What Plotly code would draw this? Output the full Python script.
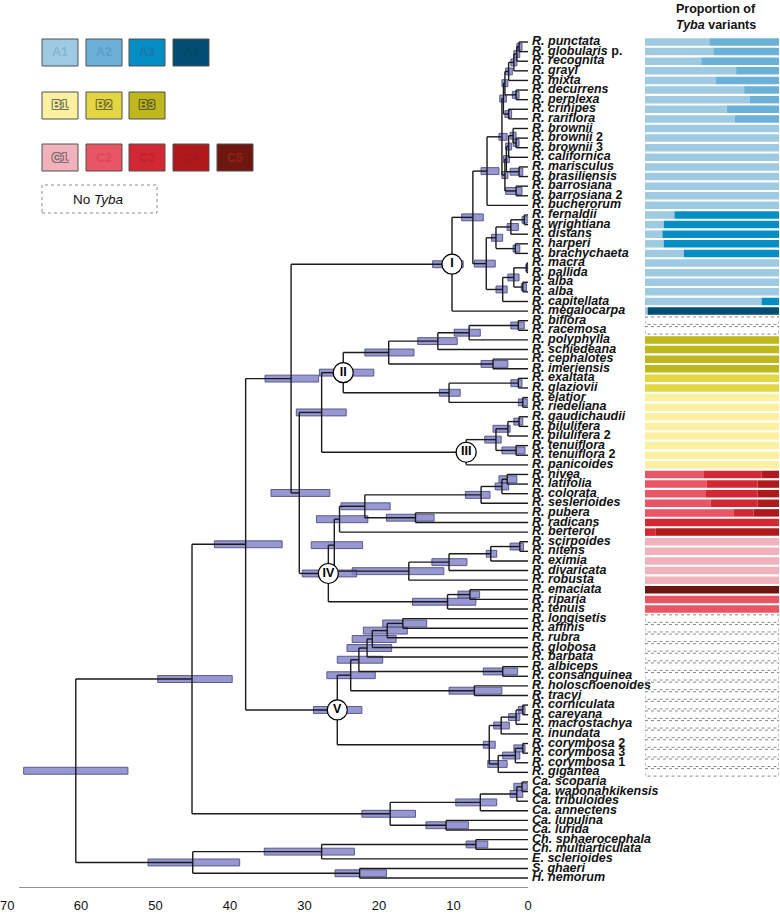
import plotly.graph_objects as go

# ---------------- data ----------------
tip_names = [
    "R. punctata", "R. globularis p.", "R. recognita", "R. grayi", "R. mixta",
    "R. decurrens", "R. perplexa", "R. crinipes", "R. rariflora", "R. brownii",
    "R. brownii 2", "R. brownii 3", "R. californica", "R. marisculus", "R. brasiliensis",
    "R. barrosiana", "R. barrosiana 2", "R. bucherorum", "R. fernaldii", "R. wrightiana",
    "R. distans", "R. harperi", "R. brachychaeta", "R. macra", "R. pallida",
    "R. alba", "R. alba", "R. capitellata", "R. megalocarpa", "R. biflora",
    "R. racemosa", "R. polyphylla", "R. schiedeana", "R. cephalotes", "R. imeriensis",
    "R. exaltata", "R. glaziovii", "R. elatior", "R. riedeliana", "R. gaudichaudii",
    "R. pilulifera", "R. pilulifera 2", "R. tenuiflora", "R. tenuiflora 2", "R. panicoides",
    "R. nivea", "R. latifolia", "R. colorata", "R. seslerioides", "R. pubera",
    "R. radicans", "R. berteroi", "R. scirpoides", "R. nitens", "R. eximia",
    "R. divaricata", "R. robusta", "R. emaciata", "R. riparia", "R. tenuis",
    "R. longisetis", "R. affinis", "R. rubra", "R. globosa", "R. barbata",
    "R. albiceps", "R. consanguinea", "R. holoschoenoides", "R. tracyi", "R. corniculata",
    "R. careyana", "R. macrostachya", "R. inundata", "R. corymbosa 2", "R. corymbosa 3",
    "R. corymbosa 1", "R. gigantea", "Ca. scoparia", "Ca. waponahkikensis", "Ca. tribuloides",
    "Ca. annectens", "Ca. lupulina", "Ca. lurida", "Ch. sphaerocephala", "Ch. multiarticulata",
    "E. sclerioides", "S. ghaeri", "H. nemorum",
]

# nodes: (name, children, age Ma, CI old, CI young); int children = tip index
clade_I_nodes = [
    ("pg", [0, 1], 1.2, 1.5, 0.8),
    ("pgr", ["pg", 2], 1.5, 1.9, 1.1),
    ("pgrg", ["pgr", 3], 1.9, 2.3, 1.5),
    ("pgrgm", ["pgrg", 4], 2.6, 3.0, 2.1),
    ("dp", [5, 6], 1.6, 2.1, 1.2),
    ("A1n", ["pgrgm", "dp"], 3.1, 3.5, 2.7),
    ("cr", [7, 8], 2.6, 3.1, 2.2),
    ("An", ["A1n", "cr"], 3.3, 3.8, 2.9),
    ("b23", [10, 11], 1.6, 2.0, 1.2),
    ("b123", [9, "b23"], 2.0, 2.4, 1.6),
    ("bc", ["b123", 12], 2.6, 3.0, 2.2),
    ("mb", [13, 14], 1.2, 2.4, 0.7),
    ("B1n", ["bc", "mb"], 2.9, 3.3, 2.5),
    ("bb", [15, 16], 1.6, 3.0, 0.8),
    ("Bn", ["B1n", "bb"], 3.1, 3.5, 2.7),
    ("AB", ["An", "Bn"], 3.5, 3.9, 2.8),
    ("ABbuch", ["AB", 17], 5.5, 6.3, 3.9),
    ("fw", [18, 19], 0.5, 0.8, 0.1),
    ("fwd", ["fw", 20], 2.3, 2.8, 1.3),
    ("hb", [21, 22], 1.7, 2.0, 1.1),
    ("fern", ["fwd", "hb"], 4.3, 4.9, 3.4),
    ("mp", [23, 24], 0.15, 0.3, 0.05),
    ("aa", [25, 26], 0.7, 0.9, 0.2),
    ("mpaa", ["mp", "aa"], 1.9, 2.7, 1.2),
    ("macra", ["mpaa", 27], 3.4, 4.3, 2.8),
    ("lowerI", ["fern", "macra"], 5.6, 7.2, 4.4),
    ("upperI", ["ABbuch", "lowerI"], 7.4, 8.9, 6.0),
    ("I", ["upperI", 28], 10.2, 12.8, 8.7),
]
clade_II_nodes = [
    ("bir", [29, 30], 1.3, 2.3, 0.5),
    ("birp", ["bir", 31], 7.9, 9.9, 6.4),
    ("birps", ["birp", 32], 12.1, 14.8, 9.5),
    ("ci", [33, 34], 4.7, 6.3, 2.7),
    ("IIa", ["birps", "ci"], 18.7, 21.9, 15.3),
    ("eg", [35, 36], 1.3, 2.3, 0.8),
    ("elr", [37, 38], 0.7, 1.3, 0.1),
    ("IIb", ["eg", "elr"], 10.6, 11.9, 9.1),
    ("II", ["IIa", "IIb"], 24.8, 28.0, 20.7),
]
clade_III_nodes = [
    ("gp", [39, 40], 1.2, 1.9, 0.7),
    ("gpp", ["gp", 41], 2.7, 4.7, 2.4),
    ("tt", [42, 43], 1.6, 3.5, 0.4),
    ("IIIa", ["gpp", "tt"], 4.3, 5.8, 3.6),
    ("III", ["IIIa", 44], 8.3, 9.6, 7.0),
]
clade_IV_nodes = [
    ("nl", [45, 46], 2.8, 3.9, 1.5),
    ("nlc", ["nl", 47], 3.5, 4.4, 2.6),
    ("nlcs", ["nlc", 48], 6.3, 8.4, 5.1),
    ("pr", [49, 50], 15.1, 19.0, 12.6),
    ("IVa1", ["nlcs", "pr"], 21.9, 25.1, 18.5),
    ("IVa", ["IVa1", 51], 25.3, 28.4, 21.5),
    ("sn", [52, 53], 1.1, 2.4, 0.6),
    ("sne", ["sn", 54], 5.0, 5.6, 4.2),
    ("sned", ["sne", 55], 10.6, 12.9, 8.2),
    ("IVb", ["sned", 56], 16.0, 23.6, 11.3),
    ("IVab", ["IVa", "IVb"], 26.0, 29.1, 22.2),
    ("emr", [57, 58], 7.8, 9.4, 6.5),
    ("IVc", ["emr", 59], 10.8, 15.5, 7.0),
    ("IV", ["IVab", "IVc"], 26.8, 30.3, 23.0),
]
clade_V_nodes = [
    ("la", [60, 61], 16.8, 19.5, 13.6),
    ("lar", ["la", 62], 18.9, 22.1, 16.2),
    ("larg", ["lar", 63], 20.9, 23.6, 17.7),
    ("largb", ["larg", 64], 21.6, 24.3, 18.3),
    ("ac", [65, 66], 3.4, 6.0, 1.4),
    ("V1a", ["largb", "ac"], 22.7, 25.6, 19.5),
    ("ht", [67, 68], 7.2, 10.6, 3.5),
    ("V1", ["V1a", "ht"], 23.8, 27.0, 20.5),
    ("cc", [69, 70], 0.7, 1.3, 0.4),
    ("ccm", ["cc", 71], 1.6, 2.6, 1.1),
    ("ccmi", ["ccm", 72], 3.6, 4.6, 2.5),
    ("c23", [73, 74], 0.7, 1.9, 0.4),
    ("c231", ["c23", 75], 1.7, 3.4, 1.1),
    ("c231g", ["c231", 76], 4.0, 5.4, 2.8),
    ("V2", ["ccmi", "c231g"], 5.2, 6.0, 4.4),
    ("V", ["V1", "V2"], 25.6, 28.8, 22.3),
]
outgroup_nodes = [
    ("sw", [77, 78], 0.8, 1.9, 0.1),
    ("swt", ["sw", 79], 1.5, 2.4, 0.7),
    ("swta", ["swt", 80], 6.4, 9.7, 4.2),
    ("ll", [81, 82], 11.0, 13.7, 8.0),
    ("Ca", ["swta", "ll"], 18.5, 22.3, 15.1),
    ("Ch", [83, 84], 7.0, 8.3, 5.4),
    ("ChE", ["Ch", 85], 27.7, 35.4, 23.3),
    ("SH", [86, 87], 22.6, 25.9, 19.0),
    ("outer", ["ChE", "SH"], 45.0, 51.0, 38.7),
]
backbone_nodes = [
    ("IIIII", ["II", "III"], 27.7, 31.1, 24.4),
    ("n30", ["IIIII", "IV"], 30.7, 34.5, 26.6),
    ("n31", ["I", "n30"], 31.8, 35.3, 28.1),
    ("n37", ["n31", "V"], 37.9, 42.1, 33.0),
    ("n45", ["n37", "Ca"], 45.1, 49.7, 39.7),
    ("root", ["n45", "outer"], 60.7, 67.7, 53.7),
]
clade_labels = ["I", "II", "III", "IV", "V"]

# Tyba variant proportions per tip row
variant_names = ["A1", "A2", "A3", "A4", "B1", "B2", "B3", "C1", "C2", "C3", "C4", "C5"]
variant_colors = ["#9ECBE2", "#6BB1D7", "#058EC3", "#024E73", "#FBF0A0", "#E2D642",
                  "#BEB71D", "#F2B2BC", "#E85564", "#D22834", "#AF191C", "#6E160F"]
tyba_A1 = {0: 0.48, 1: 0.51, 2: 0.42, 3: 0.68, 4: 0.53, 5: 0.74, 6: 0.78, 7: 0.61, 8: 0.67,
           9: 1, 10: 1, 11: 1, 12: 1, 13: 1, 14: 1, 15: 1, 16: 1, 17: 1,
           18: 0.22, 19: 0.14, 20: 0.13, 21: 0.14, 22: 0.29,
           23: 1, 24: 1, 25: 1, 26: 1, 27: 0.87, 28: 0.02}
tyba_A2 = {0: 0.52, 1: 0.49, 2: 0.58, 3: 0.32, 4: 0.47, 5: 0.26, 6: 0.22, 7: 0.39, 8: 0.33}
tyba_A3 = {18: 0.78, 19: 0.86, 20: 0.87, 21: 0.86, 22: 0.71, 27: 0.13}
tyba_A4 = {28: 0.98}
tyba_B1 = {37: 1, 38: 1, 39: 1, 40: 1, 41: 1, 42: 1, 43: 1, 44: 1}
tyba_B2 = {35: 1, 36: 1}
tyba_B3 = {31: 1, 32: 1, 33: 1, 34: 1}
tyba_C1 = {52: 1, 53: 1, 54: 1, 55: 1, 56: 1}
tyba_C2 = {45: 0.44, 46: 0.46, 47: 0.45, 48: 0.49, 49: 0.66, 58: 1, 59: 1}
tyba_C3 = {45: 0.43, 46: 0.38, 47: 0.39, 48: 0.35, 49: 0.15, 50: 1, 51: 0.08}
tyba_C4 = {45: 0.13, 46: 0.16, 47: 0.16, 48: 0.16, 49: 0.19, 51: 0.92}
tyba_C5 = {57: 1}
no_tyba_rows = [29, 30, 60, 61, 62, 63, 64, 65, 66, 67, 68, 69, 70, 71, 72, 73, 74, 75, 76]

axis_ticks = [0, 5, 10, 15, 20, 25, 30, 35, 40, 45, 50, 55, 60, 65]
axis_labels = [0, 10, 20, 30, 40, 50, 60]
axis_edge_label = 70

# ---------------- geometry helpers ----------------
W, H, B = 780, 914, 26
PH = H - B
X_RANGE = [528 / 7.45, (528 - 780) / 7.45]
Y_RANGE = [(PH - 42) / 9.61, -42 / 9.61]
FONT = "Liberation Sans, Arial, sans-serif"


def px2paper(px, py):
    return px / W, 1 - py / PH


all_nodes = {}
for grp in (clade_I_nodes, clade_II_nodes, clade_III_nodes, clade_IV_nodes,
            clade_V_nodes, outgroup_nodes, backbone_nodes):
    for name, ch, age, old, young in grp:
        all_nodes[name] = (ch, age, old, young)


def ny(ref):
    if isinstance(ref, int):
        return float(ref)
    ch = all_nodes[ref][0]
    return (ny(ch[0]) + ny(ch[-1])) / 2


def nage(ref):
    return 0.0 if isinstance(ref, int) else all_nodes[ref][1]


lx, ly = [], []
for name, (ch, age, old, young) in all_nodes.items():
    lx += [age, age, None]
    ly += [ny(ch[0]), ny(ch[-1]), None]
    for c in ch:
        lx += [age, nage(c), None]
        ly += [ny(c), ny(c), None]

fig = go.Figure()

# CI bars
names = list(all_nodes.keys())
fig.add_trace(go.Bar(
    orientation="h",
    y=[ny(n) for n in names],
    x=[all_nodes[n][2] - all_nodes[n][3] for n in names],
    base=[all_nodes[n][3] for n in names],
    width=0.72,
    marker=dict(color="rgba(128,128,200,0.82)", line=dict(color="rgba(80,80,130,0.9)", width=1)),
    hoverinfo="skip", showlegend=False,
))

# tree lines
fig.add_trace(go.Scatter(x=lx, y=ly, mode="lines",
                         line=dict(color="#1a1a1a", width=1.4),
                         hoverinfo="skip", showlegend=False))

# clade circles
fig.add_trace(go.Scatter(
    x=[nage(c) for c in clade_labels], y=[ny(c) for c in clade_labels],
    mode="markers+text", text=["<b>%s</b>" % c for c in clade_labels],
    textposition="middle center",
    textfont=dict(family=FONT, size=12.5, color="black"),
    marker=dict(size=20, color="white", line=dict(color="black", width=1.2)),
    hoverinfo="skip", showlegend=False))


def fmt(name):
    parts = name.split(" ")
    if parts[-1] == "p." or parts[-1].isdigit():
        return "<b><i>%s</i> %s</b>" % (" ".join(parts[:-1]), parts[-1])
    return "<b><i>%s</i></b>" % name


fig.add_trace(go.Scatter(
    x=[-0.55] * len(tip_names), y=list(range(len(tip_names))),
    mode="text", text=[fmt(n) for n in tip_names], textposition="middle right",
    textfont=dict(family=FONT, size=12.5, color="#111"),
    cliponaxis=False, hoverinfo="skip", showlegend=False))

# axis line + tick marks
ax_x, ax_y = [68.3, 0, None], [Y_RANGE[0], Y_RANGE[0], None]
for t in axis_ticks:
    ax_x += [t, t, None]
    ax_y += [Y_RANGE[0], Y_RANGE[0] + 4 / 9.61, None]
fig.add_trace(go.Scatter(x=ax_x, y=ax_y, mode="lines", line=dict(color="#222", width=1),
                         cliponaxis=False, hoverinfo="skip", showlegend=False))

# Tyba proportion bars (x2)
variant_data = [tyba_A1, tyba_A2, tyba_A3, tyba_A4, tyba_B1, tyba_B2, tyba_B3,
                tyba_C1, tyba_C2, tyba_C3, tyba_C4, tyba_C5]
cum = {}
for vname, vcol, vd in zip(variant_names, variant_colors, variant_data):
    ys, xs, bs = [], [], []
    for row, frac in vd.items():
        ys.append(row)
        xs.append(frac)
        bs.append(cum.get(row, 0))
        cum[row] = cum.get(row, 0) + frac
    fig.add_trace(go.Bar(orientation="h", y=ys, x=xs, base=bs, width=0.78,
                         marker=dict(color=vcol, line=dict(width=0)),
                         xaxis="x2", yaxis="y", name=vname,
                         hoverinfo="skip", showlegend=False))

nx, nyv = [], []
for r in no_tyba_rows:
    nx += [0, 1, 1, 0, 0, None]
    nyv += [r - 0.39, r - 0.39, r + 0.39, r + 0.39, r - 0.39, None]
fig.add_trace(go.Scatter(x=nx, y=nyv, mode="lines", xaxis="x2", yaxis="y",
                         line=dict(color="#8a8a8a", width=1, dash="dot"),
                         cliponaxis=False, hoverinfo="skip", showlegend=False))

# ---------------- legend boxes (top-left) ----------------
shapes, annotations = [], []
legend_rows = [(39, 66, ["A1", "A2", "A3", "A4"]),
               (92, 119, ["B1", "B2", "B3"]),
               (144, 171, ["C1", "C2", "C3", "C4", "C5"])]
col_x = [42, 86, 129, 173, 217]
text_style = {
    "A1": ("#84B6D2", None), "A2": ("#5C9FC8", None), "A3": ("#1679AA", None),
    "A4": ("#03496B", None), "B1": (None, "#6e6e5a"), "B2": (None, "#6e6a30"),
    "B3": (None, "#5e5a20"), "C1": (None, "#7a6a6c"), "C2": ("#D84A5A", None),
    "C3": ("#BE2230", None), "C4": ("#A5181B", None), "C5": ("#8C2419", None),
}
for y0, y1, labs in legend_rows:
    for k, lab in enumerate(labs):
        fill = variant_colors[variant_names.index(lab)]
        x0 = col_x[k]
        px0, py0 = px2paper(x0, y0)
        px1, py1 = px2paper(x0 + 36, y1)
        shapes.append(dict(type="rect", xref="paper", yref="paper", x0=px0, x1=px1,
                           y0=py1, y1=py0, fillcolor=fill,
                           line=dict(color="#505050", width=1)))
        tcol, outline = text_style[lab]
        font = dict(family=FONT, size=12.5, color=tcol if tcol else fill, weight="bold")
        if outline:
            font["shadow"] = ("-1px -1px 0 %s, 1px -1px 0 %s, -1px 1px 0 %s, 1px 1px 0 %s"
                              % (outline, outline, outline, outline))
        cx, cy = px2paper(x0 + 18, (y0 + y1) / 2)
        annotations.append(dict(text=lab, x=cx, y=cy, xref="paper", yref="paper",
                                showarrow=False, font=font, xanchor="center", yanchor="middle"))

nb0 = px2paper(42, 185)
nb1 = px2paper(157, 213)
shapes.append(dict(type="rect", xref="paper", yref="paper", x0=nb0[0], x1=nb1[0],
                   y0=nb1[1], y1=nb0[1], line=dict(color="#8a8a8a", width=1, dash="dot")))
ncx, ncy = px2paper(98, 199)
annotations.append(dict(text="No <i>Tyba</i>", x=ncx, y=ncy, xref="paper", yref="paper",
                        showarrow=False, xanchor="center", yanchor="middle",
                        font=dict(family=FONT, size=13.5, color="#111")))

# title of bar column
for txt, py in (("<b>Proportion of</b>", 9), ("<b><i>Tyba</i> variants</b>", 25)):
    tx, ty = px2paper(716, py)
    annotations.append(dict(text=txt, x=tx, y=ty, xref="paper", yref="paper",
                            showarrow=False, xanchor="center", yanchor="middle",
                            font=dict(family=FONT, size=12.5, color="#111")))

# leftmost axis label (sits at the edge of the figure)
_, ly70 = px2paper(0, 906)
annotations.append(dict(text=str(axis_edge_label), x=axis_edge_label, xref="x", y=ly70,
                        yref="paper", showarrow=False, xanchor="center", yanchor="middle",
                        font=dict(family=FONT, size=13, color="#111")))

fig.update_layout(
    width=W, height=H, margin=dict(l=0, r=0, t=0, b=B),
    paper_bgcolor="white", plot_bgcolor="rgba(0,0,0,0)",
    barmode="overlay", showlegend=False,
    shapes=shapes, annotations=annotations,
    xaxis=dict(range=X_RANGE, domain=[0, 1], showgrid=False, zeroline=False, showline=False,
               tickvals=axis_labels, ticktext=[str(v) for v in axis_labels],
               ticks="outside", ticklen=5, tickcolor="rgba(0,0,0,0)", automargin=False,
               tickfont=dict(family=FONT, size=13, color="#111")),
    xaxis2=dict(range=[0, 1], domain=[645 / W, 779 / W], anchor="y", visible=False,
                showgrid=False, zeroline=False),
    yaxis=dict(range=Y_RANGE, visible=False, showgrid=False, zeroline=False),
)

fig.write_html("out.html", config={"displayModeBar": False},
               post_script="document.body.style.margin='0px';document.body.style.padding='0px';")
